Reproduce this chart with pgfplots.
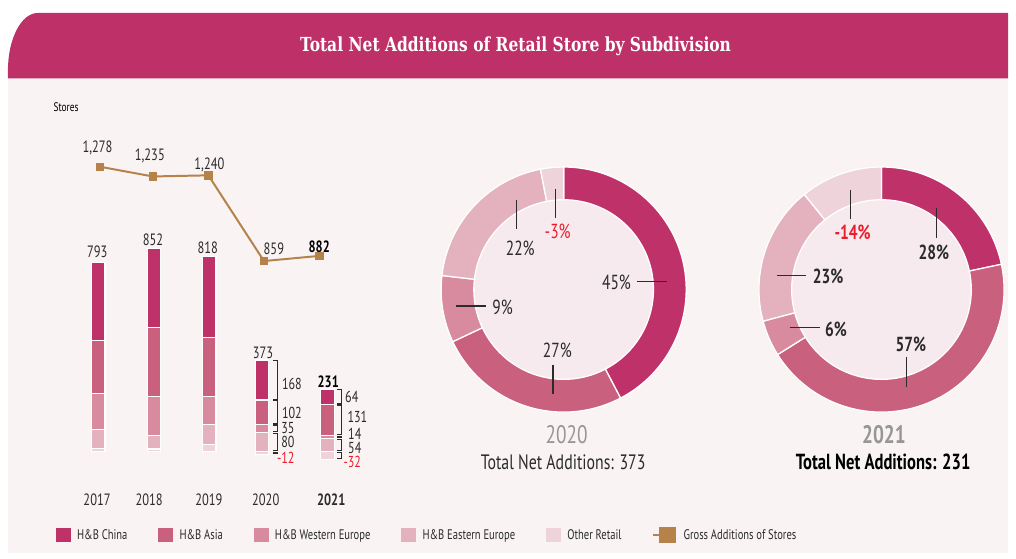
\documentclass[border=0pt]{standalone}
\usepackage{pgfplots}
\pgfplotsset{compat=1.18}
\usepackage{fontspec}
\setmainfont{PT Sans}[FakeStretch=0.76]
\newfontfamily\titlefont{DejaVu Serif}[FakeStretch=0.8]
\usetikzlibrary{calc}

\definecolor{cBand}{RGB}{190,49,104}
\definecolor{cPanel}{RGB}{249,243,244}
\definecolor{cChina}{RGB}{191,49,105}
\definecolor{cAsia}{RGB}{201,96,126}
\definecolor{cWE}{RGB}{216,139,159}
\definecolor{cEE}{RGB}{228,178,190}
\definecolor{cOther}{RGB}{238,211,218}
\definecolor{cLine}{RGB}{181,131,74}
\definecolor{cInner}{RGB}{247,234,239}
\definecolor{cText}{RGB}{43,43,43}
\definecolor{cGray}{RGB}{150,150,150}
\definecolor{cRed}{RGB}{235,30,45}

\newcommand\numfont{\fontsize{16.5}{19}\selectfont}
\newcommand\brkfont{\fontsize{16}{18}\selectfont}
\newcommand\pctfont{\fontsize{20.5}{24}\selectfont}
\newcommand\yrfont{\fontsize{25.5}{30}\selectfont}
\newcommand\totfont{\fontsize{21}{24}\selectfont}
\newcommand\legfont{\fontsize{14}{16}\selectfont}

% donut data (absolute store numbers per subdivision)
\def\Aa{168}\def\Ab{102}\def\Ac{35}\def\Ad{80}\def\Ae{12}
\def\Ba{64}\def\Bb{131}\def\Bc{14}\def\Bd{54}\def\Be{32}
\pgfmathsetmacro\At{\Aa+\Ab+\Ac+\Ad+\Ae}
\pgfmathsetmacro\Asa{90-\Aa/\At*360}
\pgfmathsetmacro\Asb{\Asa-\Ab/\At*360}
\pgfmathsetmacro\Asc{\Asb-\Ac/\At*360}
\pgfmathsetmacro\Asd{\Asc-\Ad/\At*360}
\pgfmathsetmacro\Bt{\Ba+\Bb+\Bc+\Bd+\Be}
\pgfmathsetmacro\Bsa{90-\Ba/\Bt*360}
\pgfmathsetmacro\Bsb{\Bsa-\Bb/\Bt*360}
\pgfmathsetmacro\Bsc{\Bsb-\Bc/\Bt*360}
\pgfmathsetmacro\Bsd{\Bsc-\Bd/\Bt*360}

\newcommand\sector[5]{%
  \fill[#5, draw=white, line width=1.3pt] (axis cs:#1,#2) ++(#3:123.5pt)
    arc[start angle=#3, end angle=#4, radius=123.5pt] -- ++(#4:-33pt)
    arc[start angle=#4, end angle=#3, radius=90.5pt] -- cycle;}
\newcommand\brk[4]{%
  \draw[cText, line width=1.1pt] ($(axis cs:#1,#4)+(0pt,-0.8pt)$) -- ($(axis cs:#2,#4)+(0pt,-0.8pt)$)
    -- ($(axis cs:#2,#3)+(0pt,0.8pt)$) -- ($(axis cs:#1,#3)+(0pt,0.8pt)$);}

\tikzset{lab/.style={inner sep=0pt, text=cText}}
\pgfplotsset{
  sqlegend/.style={legend image code/.code={\fill[##1, draw=none] (0pt,-7.5pt) rectangle (15pt,7.5pt);}},
  base/.style={at={(0pt,69pt)}, anchor=south west, scale only axis,
    width=1016pt, height=494pt, xmin=0, xmax=1016, clip=false}
}

\begin{document}
\begin{tikzpicture}
\fill[white] (0pt,0pt) rectangle (1016pt,563pt);
\fill[cPanel] (8pt,6pt) rectangle (1016pt,484pt);
\fill[cBand] (8pt,484pt) -- (8pt,492pt) arc[start angle=180,end angle=90,x radius=30pt,y radius=58pt]
  -- (1016pt,550pt) -- (1016pt,484pt) -- cycle;

% ---------- annotation / donut axis (units = pt) ----------
\begin{axis}[base, ymin=69, ymax=563, hide axis,
  title={Total Net Additions of Retail Store by Subdivision},
  every axis title/.style={at={(axis description cs:0.5113,0.8954)}, anchor=base,
    font=\titlefont\bfseries\fontsize{19.5}{22}\selectfont, text=white, inner sep=0pt}]
  % donut 2020
  \fill[cInner] (axis cs:568,271.3) circle[radius=91pt];
  \sector{568}{271.3}{90}{\Asa}{cChina}
  \sector{568}{271.3}{\Asa}{\Asb}{cAsia}
  \sector{568}{271.3}{\Asb}{\Asc}{cWE}
  \sector{568}{271.3}{\Asc}{\Asd}{cEE}
  \sector{568}{271.3}{\Asd}{-270}{cOther}
  % donut 2021
  \fill[cInner] (axis cs:888.3,271.3) circle[radius=91pt];
  \sector{888.3}{271.3}{90}{\Bsa}{cChina}
  \sector{888.3}{271.3}{\Bsa}{\Bsb}{cAsia}
  \sector{888.3}{271.3}{\Bsb}{\Bsc}{cWE}
  \sector{888.3}{271.3}{\Bsc}{\Bsd}{cEE}
  \sector{888.3}{271.3}{\Bsd}{-270}{cOther}
  % leaders 2020
  \draw[cText, line width=1.1pt] (axis cs:641.7,279) -- (axis cs:671.7,279);
  \draw[cText, line width=1.1pt] (axis cs:557.3,195.7) -- (axis cs:557.3,166.3);
  \draw[cText, line width=1.1pt] (axis cs:460,254.7) -- (axis cs:490,254.7);
  \draw[cText, line width=1.1pt] (axis cs:520.7,361.3) -- (axis cs:520.7,332);
  \draw[cText, line width=1.1pt] (axis cs:560,372.3) -- (axis cs:560,343);
  % leaders 2021
  \draw[cText, line width=1.1pt] (axis cs:943.3,353.7) -- (axis cs:943.3,323.7);
  \draw[cText, line width=1.1pt] (axis cs:913.3,203) -- (axis cs:913.3,173);
  \draw[cText, line width=1.1pt] (axis cs:795.7,233) -- (axis cs:826,233);
  \draw[cText, line width=1.1pt] (axis cs:783.3,285.3) -- (axis cs:812.7,285.3);
  \draw[cText, line width=1.1pt] (axis cs:857.3,371.3) -- (axis cs:857.3,342);
  % donut labels 2020
  \node[lab, font=\pctfont] at (axis cs:621.3,278.8) {45\%};
  \node[lab, font=\pctfont] at (axis cs:561.7,210.5) {27\%};
  \node[lab, font=\pctfont] at (axis cs:506.5,253.8) {9\%};
  \node[lab, font=\pctfont] at (axis cs:524.3,312.7) {22\%};
  \node[lab, font=\pctfont, text=cRed] at (axis cs:562,329.7) {-3\%};
  \node[lab, font=\yrfont, text=cGray] at (axis cs:571,124.7) {2020};
  \node[lab, font=\totfont] at (axis cs:567.5,97.2) {Total Net Additions: 373};
  % donut labels 2021
  \node[lab, font=\pctfont\bfseries] at (axis cs:941,308.5) {28\%};
  \node[lab, font=\pctfont\bfseries] at (axis cs:917.8,216.3) {57\%};
  \node[lab, font=\pctfont\bfseries] at (axis cs:842.5,231.3) {6\%};
  \node[lab, font=\pctfont\bfseries] at (axis cs:834.5,284.7) {23\%};
  \node[lab, font=\pctfont\bfseries, text=cRed] at (axis cs:859.2,329.2) {-14\%};
  \node[lab, font=\yrfont\bfseries, text=cGray] at (axis cs:890.8,124.7) {2021};
  \node[lab, font=\fontsize{22}{25}\selectfont\bfseries, text=black] at (axis cs:890,97.2) {Total Net Additions: 231};
  % line labels
  \node[lab, font=\numfont] at (axis cs:98.3,413.8) {1,278};
  \node[lab, font=\numfont] at (axis cs:151,406.2) {1,235};
  \node[lab, font=\numfont] at (axis cs:211,396.5) {1,240};
  \node[lab, font=\numfont] at (axis cs:276,312.2) {859};
  \node[lab, font=\numfont\bfseries, text=black] at (axis cs:321.7,314.5) {882};
  % bar totals
  \node[lab, font=\numfont] at (axis cs:98,309.3) {793};
  \node[lab, font=\numfont] at (axis cs:154.2,321.5) {852};
  \node[lab, font=\numfont] at (axis cs:209.3,313.5) {818};
  \node[lab, font=\numfont] at (axis cs:265,207) {373};
  \node[lab, font=\numfont\bfseries, text=black] at (axis cs:330.8,178) {231};
  % bracket labels
  \node[lab, font=\brkfont, anchor=west] at (axis cs:284,176.3) {168};
  \node[lab, font=\brkfont, anchor=west] at (axis cs:284,147) {102};
  \node[lab, font=\brkfont, anchor=west] at (axis cs:283.3,132.2) {35};
  \node[lab, font=\brkfont, anchor=west] at (axis cs:283.3,117.5) {80};
  \node[lab, font=\brkfont, anchor=west, text=cRed] at (axis cs:279,102.2) {-12};
  \node[lab, font=\brkfont, anchor=west] at (axis cs:347.7,162.7) {64};
  \node[lab, font=\brkfont, anchor=west] at (axis cs:350,143.2) {131};
  \node[lab, font=\brkfont, anchor=west] at (axis cs:350.7,125.7) {14};
  \node[lab, font=\brkfont, anchor=west] at (axis cs:350.7,111.2) {54};
  \node[lab, font=\brkfont, anchor=west, text=cRed] at (axis cs:346,97.2) {-32};
\end{axis}

% ---------- stacked bars ----------
\begin{axis}[base, ymin=-162.5, ymax=1895.83, ybar stacked, bar width=13.5pt,
  axis line style={draw=none}, major tick length=0pt, ytick=\empty,
  xtick={97.8,150.3,210.5,267.8,333.8},
  xticklabels={2017,2018,2019,2020,\textbf{2021}},
  xticklabel style={font=\numfont, text=cText, inner sep=0pt, anchor=north, yshift=-3pt},
  ylabel={Stores},
  every axis y label/.style={at={(axis description cs:0.0656,0.7808)}, anchor=center,
    font=\fontsize{12.5}{14}\selectfont, text=black, inner sep=0pt}]
  \addplot[fill=cOther, draw=white, line width=1.2pt] coordinates {(99,13) (155,11) (211,29) (264,0) (330,0)};
  \addplot[fill=cEE, draw=white, line width=1.2pt] coordinates {(99,80) (155,56) (211,84) (264,80) (330,54)};
  \addplot[fill=cWE, draw=white, line width=1.2pt] coordinates {(99,150) (155,165) (211,117) (264,35) (330,14)};
  \addplot[fill=cAsia, draw=white, line width=1.2pt] coordinates {(99,224) (155,288) (211,248) (264,102) (330,131)};
  \addplot[fill=cChina, draw=white, line width=1.2pt] coordinates {(99,326) (155,332) (211,340) (264,168) (330,64)};
  % brackets (cumulative store values)
  \brk{275}{279.3}{217}{385}
  \brk{275}{279.3}{115}{217}
  \brk{275}{279.3}{80}{115}
  \brk{275}{279.3}{0}{80}
  \brk{275}{279.3}{-12}{0}
  \brk{340}{344.3}{199}{263}
  \brk{340}{344.3}{68}{199}
  \brk{340}{344.3}{54}{68}
  \brk{340}{344.3}{0}{54}
  \brk{340}{344.3}{-32}{0}
\end{axis}

% ---------- negative part (Other Retail) ----------
\begin{axis}[base, ymin=-162.5, ymax=1895.83, hide axis, ybar, bar width=13.5pt, bar shift=0pt]
  \addplot[fill=cOther, draw=white, line width=1.2pt] coordinates {(264,-12) (330,-32)};
\end{axis}

% ---------- gross additions line + legend ----------
\begin{axis}[base, ymin=-160.1, ymax=2019.0, hide axis,
  legend columns=6, legend cell align=left,
  legend style={at={(0.0551,-0.0911)}, anchor=west, draw=none, fill=none,
    inner sep=0pt, font=\legfont, text=cText, nodes={inner sep=0pt},
    /tikz/every odd column/.append style={column sep=6.5pt},
    /tikz/every even column/.append style={column sep=31pt}}]
  \addlegendimage{sqlegend, fill=cChina}\addlegendentry{H\&B China}
  \addlegendimage{sqlegend, fill=cAsia}\addlegendentry{H\&B Asia}
  \addlegendimage{sqlegend, fill=cWE}\addlegendentry{H\&B Western Europe}
  \addlegendimage{sqlegend, fill=cEE}\addlegendentry{H\&B Eastern Europe}
  \addlegendimage{sqlegend, fill=cOther}\addlegendentry{Other Retail}
  \addplot[color=cLine, line width=2pt, mark=square*, mark size=3.3pt, mark options={solid},
    legend image code/.code={\draw[cLine, line width=2pt] (0pt,0pt) -- (23pt,0pt);
      \fill[cLine] (7pt,-7.5pt) rectangle (22pt,7.5pt);}]
    coordinates {(101,1278) (154,1235) (210,1240) (266,859) (322,882)};
  \addlegendentry{Gross Additions of Stores}
\end{axis}
\end{tikzpicture}
\end{document}
